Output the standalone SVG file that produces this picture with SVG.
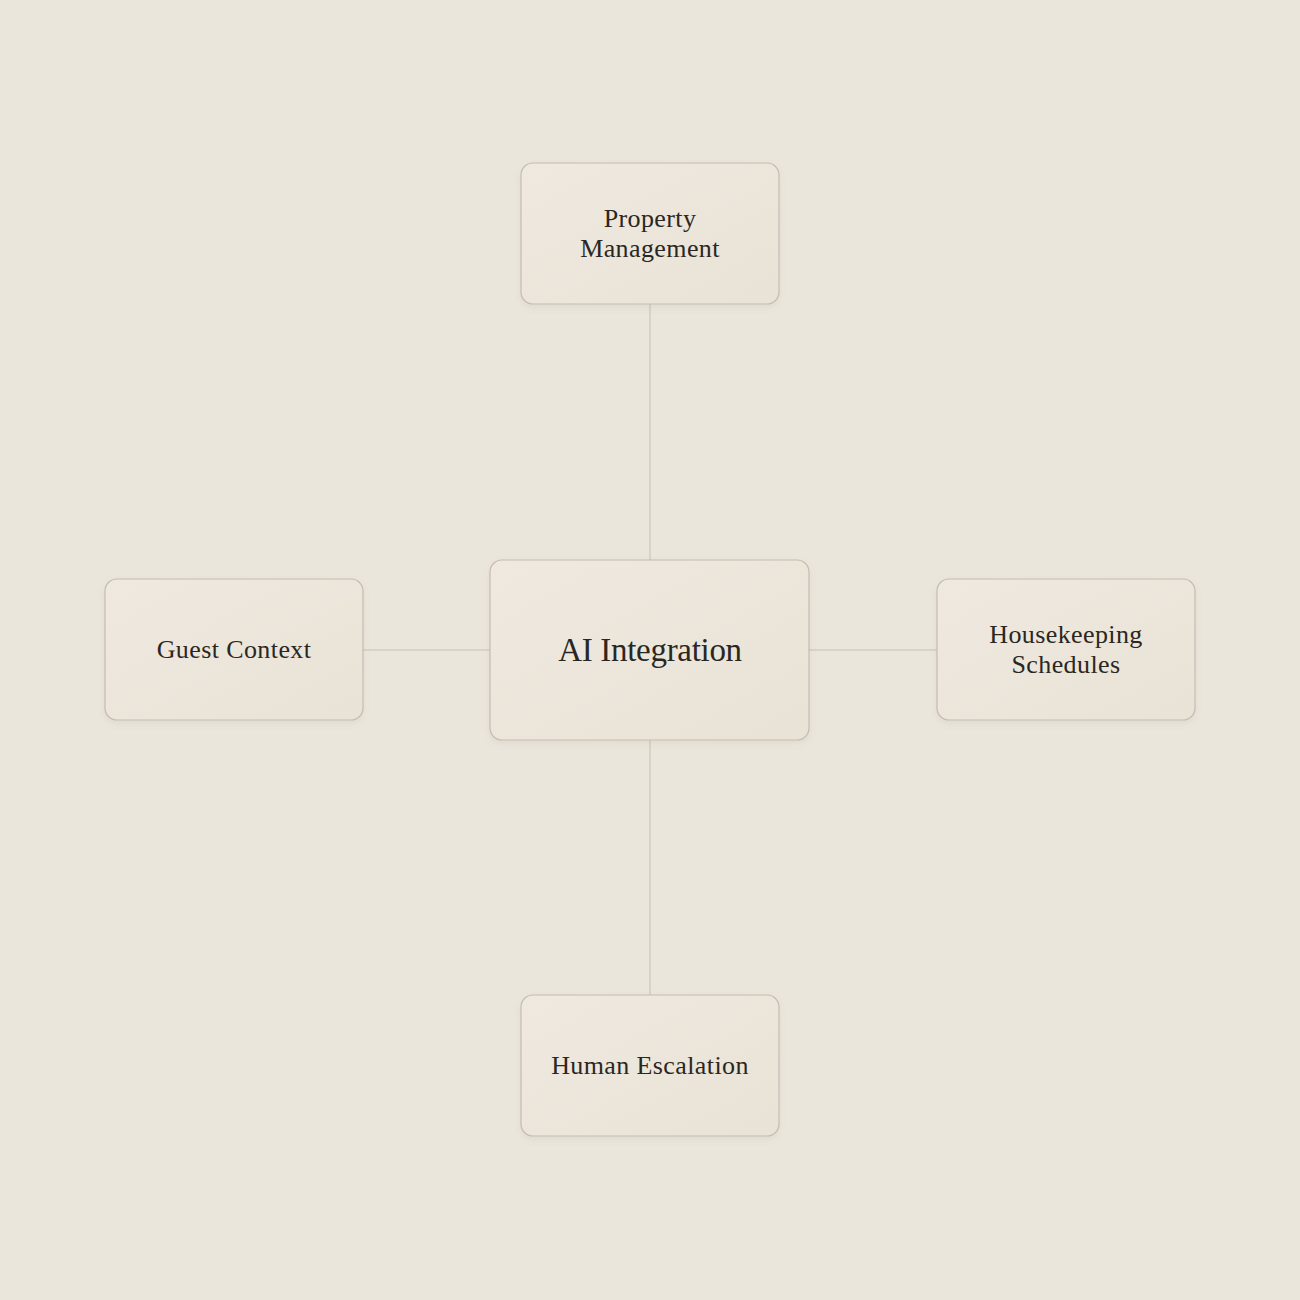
<svg xmlns="http://www.w3.org/2000/svg" width="1300" height="1300" viewBox="0 0 1300 1300">
<defs>
<linearGradient id="g" x1="0" y1="0" x2="1" y2="1">
<stop offset="0" stop-color="#efe9e0"/>
<stop offset="1" stop-color="#e9e2d6"/>
</linearGradient>
<filter id="sh" x="-10%" y="-10%" width="120%" height="130%">
<feDropShadow dx="0" dy="3" stdDeviation="3" flood-color="#8a7f6e" flood-opacity="0.12"/>
</filter>
<style>
.box{fill:url(#g);stroke:#c4bcb1;stroke-width:1.2;filter:url(#sh)}
.t{font-family:"Liberation Serif","DejaVu Serif",serif;fill:#2a2722;text-anchor:middle}
.s{font-size:26px;letter-spacing:0.4px}
.b{font-size:33px;letter-spacing:-0.3px}
.c{stroke:#d2cbc1;stroke-width:1.5;fill:none}
</style>
</defs>
<rect width="1300" height="1300" fill="#ebe6dc"/>
<g id="connectors">
<line class="c" x1="650" y1="304" x2="650" y2="560"/>
<line class="c" x1="650" y1="740" x2="650" y2="995"/>
<line class="c" x1="363" y1="650" x2="490" y2="650"/>
<line class="c" x1="809" y1="650" x2="937" y2="650"/>
</g>
<g id="ai-integration">
<rect class="box" x="490" y="560" width="319" height="180" rx="12"/>
<text class="t b" x="650" y="661">AI Integration</text>
</g>
<g id="property-management">
<rect class="box" x="521" y="163" width="258" height="141" rx="12"/>
<text class="t s" x="650" y="227">Property</text>
<text class="t s" x="650" y="257">Management</text>
</g>
<g id="guest-context">
<rect class="box" x="105" y="579" width="258" height="141" rx="12"/>
<text class="t s" x="234" y="658">Guest Context</text>
</g>
<g id="housekeeping-schedules">
<rect class="box" x="937" y="579" width="258" height="141" rx="12"/>
<text class="t s" x="1066" y="643">Housekeeping</text>
<text class="t s" x="1066" y="673">Schedules</text>
</g>
<g id="human-escalation">
<rect class="box" x="521" y="995" width="258" height="141" rx="12"/>
<text class="t s" x="650" y="1074">Human Escalation</text>
</g>
</svg>
